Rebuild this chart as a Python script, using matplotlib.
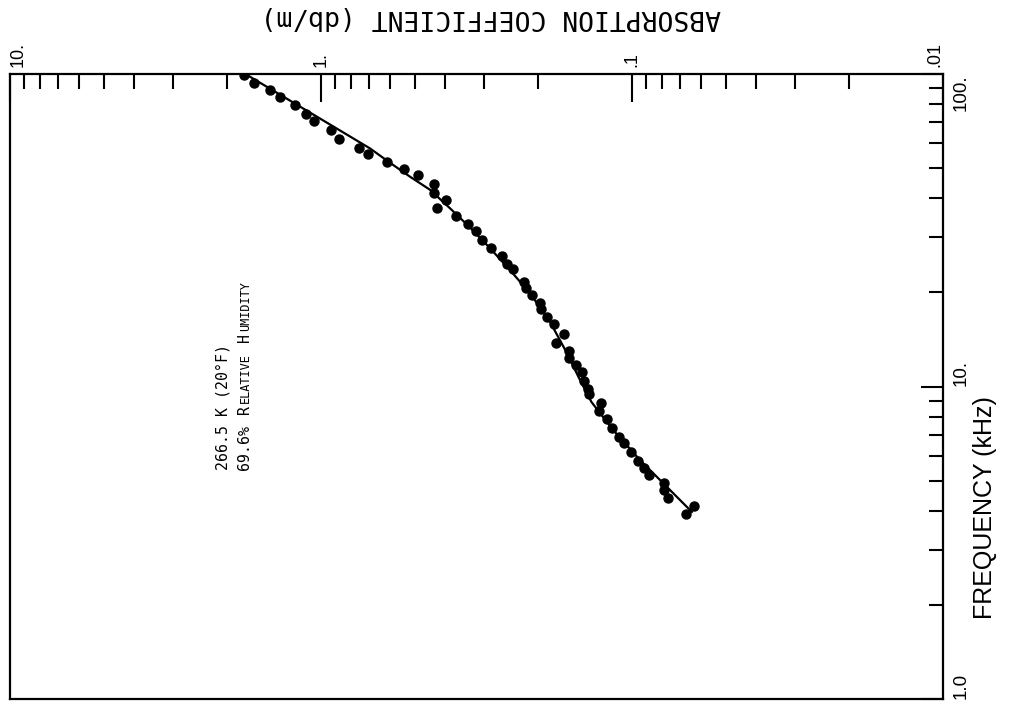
import matplotlib
matplotlib.use("Agg")
import matplotlib.pyplot as plt
from matplotlib.ticker import LogLocator, NullFormatter

plt.rcParams['font.family'] = ['Liberation Sans', 'DejaVu Sans']

# measured points: absorption coefficient (db/m) vs frequency (kHz)
absorption = [1.77, 1.64, 1.46, 1.35, 1.21, 1.12, 1.05, 0.929, 0.873, 0.753,
              0.705, 0.612, 0.542, 0.489, 0.434, 0.432, 0.397, 0.425, 0.368, 0.338,
              0.318, 0.304, 0.285, 0.262, 0.252, 0.241, 0.222, 0.220, 0.209, 0.198,
              0.196, 0.187, 0.178, 0.165, 0.176, 0.160, 0.159, 0.151, 0.145, 0.143,
              0.139, 0.137, 0.126, 0.128, 0.120, 0.116, 0.110, 0.106, 0.101, 0.0959,
              0.0913, 0.0880, 0.0789, 0.0789, 0.0764, 0.0631, 0.0671]
frequency = [99.3, 93.8, 88.9, 84.6, 79.6, 74.3, 70.6, 66.0, 62.1, 58.1,
             55.3, 52.4, 49.7, 47.4, 44.5, 41.6, 39.4, 37.3, 35.2, 33.2,
             31.5, 29.4, 27.8, 26.2, 24.6, 23.7, 21.6, 20.7, 19.6, 18.5,
             17.7, 16.7, 15.8, 14.7, 13.8, 13.0, 12.3, 11.7, 11.1, 10.4,
             9.82, 9.44, 8.88, 8.35, 7.85, 7.38, 6.91, 6.61, 6.16, 5.78,
             5.49, 5.21, 4.90, 4.67, 4.39, 4.15, 3.90]

# theoretical curve
fit_absorption = [1.75, 1.04, 0.696, 0.600, 0.517, 0.446, 0.385, 0.332, 0.286,
                  0.247, 0.213, 0.1835, 0.164, 0.147, 0.135, 0.115, 0.0943,
                  0.0772, 0.0642]
fit_frequency = [100, 73.4, 57.8, 52.0, 46.9, 42.6, 37.2, 32.3, 27.7,
                 23.6, 19.9, 16.1, 13.1, 10.5, 8.92, 7.26, 5.82,
                 4.77, 3.97]

x_ticks = [10, 1, 0.1, 0.01]
x_ticklabels = ['10.', '1.', '.1', '.01']
y_ticks = [1, 10, 100]
y_ticklabels = ['1.0', '10.', '100.']

W, H = 1014, 704
fig = plt.figure(figsize=(W / 100, H / 100), dpi=100)
ax = fig.add_axes([10 / W, 5 / H, 933 / W, 625 / H])
ax.set_xscale('log')
ax.set_yscale('log')
ax.set_xlim(10, 0.01)
ax.set_ylim(1, 100)

ax.plot(fit_absorption, fit_frequency, color='black', lw=1.6)
ax.plot(absorption, frequency, 'o', color='black', ms=6.5, mec='black')

for s in ax.spines.values():
    s.set_linewidth(1.6)

ax.xaxis.set_ticks_position('top')
ax.yaxis.set_ticks_position('right')
ax.set_xticks(x_ticks, x_ticklabels)
ax.set_yticks(y_ticks, y_ticklabels)
ax.xaxis.set_minor_locator(LogLocator(base=10, subs=range(2, 10), numticks=20))
ax.yaxis.set_minor_locator(LogLocator(base=10, subs=range(2, 10), numticks=20))
ax.xaxis.set_minor_formatter(NullFormatter())
ax.yaxis.set_minor_formatter(NullFormatter())

ax.tick_params(axis='x', which='both', direction='in', top=True, bottom=False,
               labeltop=True, labelbottom=False, width=1.5)
ax.tick_params(axis='x', which='major', length=20, labelsize=13, pad=5,
               labelrotation=90)
ax.tick_params(axis='x', which='minor', length=11)
ax.tick_params(axis='y', which='both', direction='in', right=True, left=False,
               labelright=True, labelleft=False, width=1.5)
ax.tick_params(axis='y', which='major', length=16, labelsize=13.5, pad=7,
               labelrotation=90)
ax.tick_params(axis='y', which='minor', length=10)

xha = {10: 'left', 1: 'center', 0.1: 'center', 0.01: 'right'}
for t in ax.xaxis.get_major_ticks():
    loc = t.get_loc()
    for k, v in xha.items():
        if abs(loc - k) / k < 1e-6:
            t.label2.set_ha(v)
    t.label2.set_va('bottom')
yva = {1: 'bottom', 10: 'bottom', 100: 'top'}
for t in ax.yaxis.get_major_ticks():
    loc = t.get_loc()
    for k, v in yva.items():
        if abs(loc - k) / k < 1e-6:
            t.label2.set_va(v)
    t.label2.set_ha('left')

# axis titles
fig.text(491 / W, 1 - 17 / H, 'ABSORPTION COEFFICIENT (db/m)', rotation=180,
         ha='center', va='center', family='DejaVu Sans Mono', fontsize=19)
fig.text(985 / W, 1 - 508 / H, 'FREQUENCY (kHz)', rotation=90,
         ha='center', va='center', fontsize=18)

# annotation (small caps emulated)
big, small = 10.7, 8.6
mono = 'DejaVu Sans Mono'
fig.text(230 / W, 1 - 470 / H, '266.5 K (20°F)', rotation=90, ha='right',
         va='bottom', family=mono, fontsize=big)
pieces = [('R', big, 8.0), ('ELATIVE', small, 1.4), ('H', big, 8.0),
          ('UMIDITY', small, 1.4)]
prev = fig.text(252 / W, 1 - 470 / H, '69.6%', rotation=90, ha='right',
                va='bottom', family=mono, fontsize=big)
for txt, fs, gap in pieces:
    prev = ax.annotate(txt, xy=(1, 1), xycoords=prev, xytext=(0, gap),
                       textcoords='offset points', rotation=90, ha='right',
                       va='bottom', family=mono, fontsize=fs)

fig.savefig('out.png', dpi=100)
